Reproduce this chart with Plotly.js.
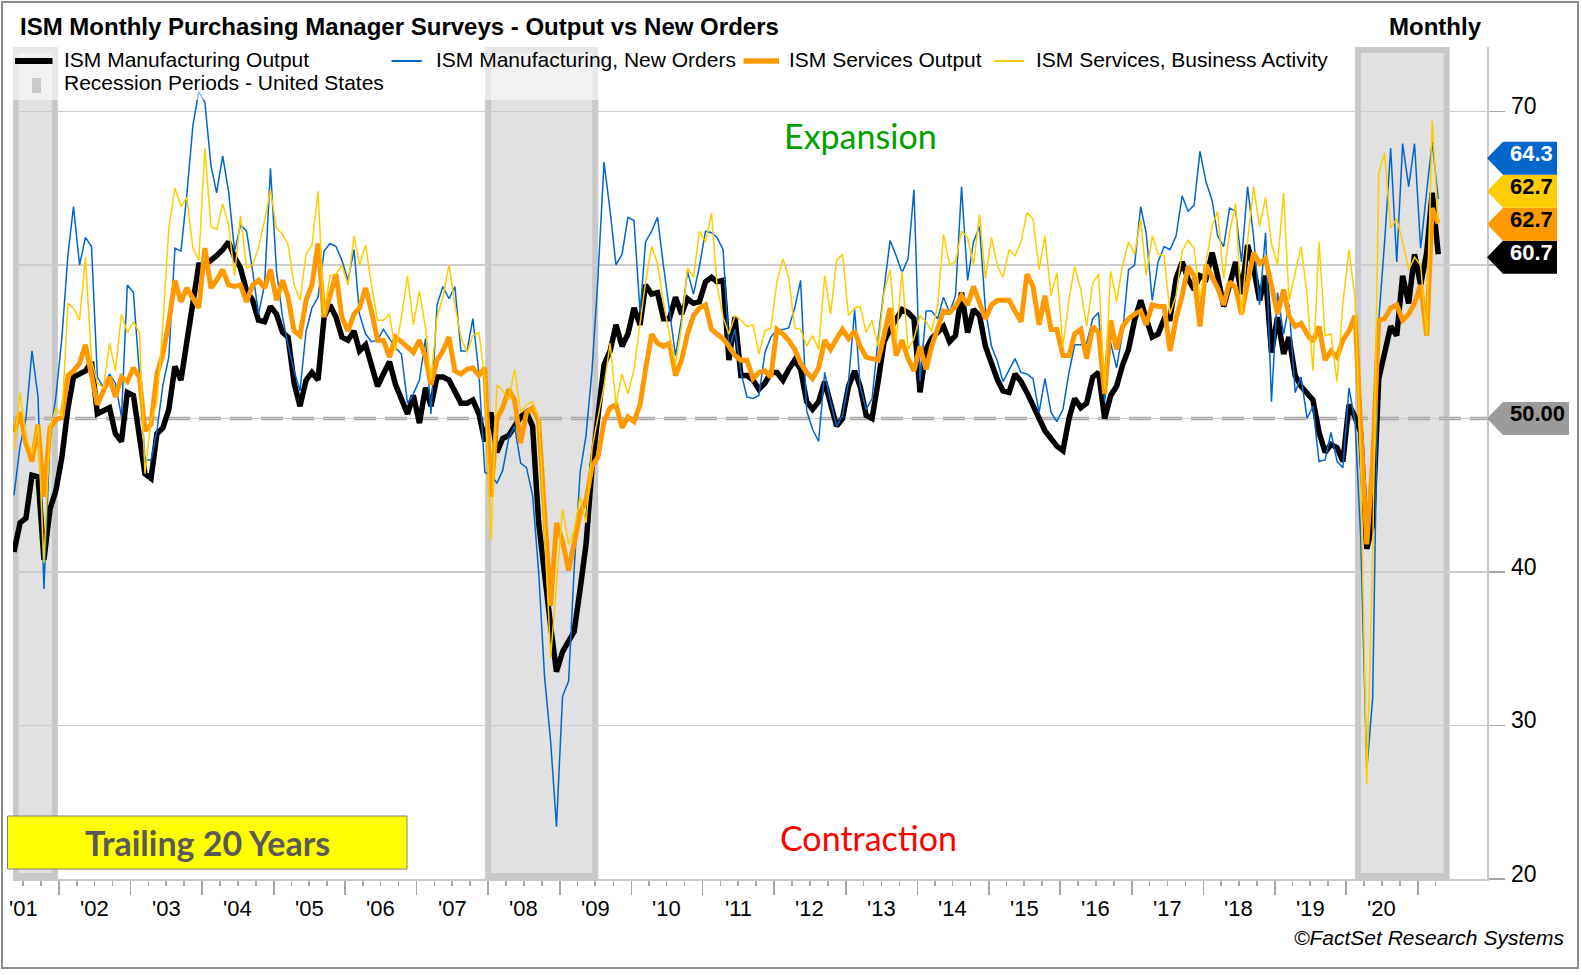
<!DOCTYPE html>
<html><head><meta charset="utf-8">
<script src="https://cdn.plot.ly/plotly-3.0.1.min.js"></script>
<style>
html,body{margin:0;padding:0;background:#fff;}
#wrap{position:relative;width:1582px;height:975px;}
#chart{width:1582px;height:975px;}
#frame{position:absolute;left:1px;top:1px;width:1578px;height:968px;border:2px solid #8c8c8c;box-sizing:border-box;pointer-events:none;}
</style></head><body>
<div id="wrap"><div id="chart"></div><div id="frame"></div></div>
<script>
// ---- data (monthly, starting May 2001) ----
const startYear = 2001, startMonth = 5;
const mfgOutput = [
41.3,43.2,43.5,46.3,46.2,40.8,44.1,45.3,
47.5,50.7,52.7,52.9,53.1,53.7,50.3,50.5,50.7,49.0,48.5,51.7,
51.5,48.8,46.4,46.1,49.0,49.4,50.6,53.4,52.5,55.0,57.6,60.0,
60.0,60.3,60.6,61.0,61.5,60.5,59.8,58.3,57.7,56.4,56.3,57.3,
56.8,55.6,55.3,52.3,50.8,52.5,53.0,52.5,56.6,57.4,56.6,55.3,
55.1,55.7,54.4,54.8,53.5,52.1,52.9,53.7,52.2,51.2,50.3,51.5,
49.7,52.0,50.8,52.7,52.7,52.5,51.8,51.0,51.0,51.2,50.3,48.5,
50.4,47.8,48.7,48.9,49.5,50.1,50.4,49.5,43.2,39.5,36.5,33.5,
34.8,35.5,36.1,38.9,41.8,46.9,50.4,53.5,54.4,56.1,54.7,55.5,
57.2,56.1,58.7,58.1,58.2,56.5,56.5,57.9,56.8,57.8,57.5,57.6,
58.9,59.2,58.9,59.0,53.8,56.6,52.8,52.8,52.5,51.9,52.3,53.0,
53.0,52.5,53.2,53.8,53.2,51.1,50.6,51.1,52.4,51.1,49.5,50.0,
52.1,53.1,52.1,50.2,50.0,52.4,55.0,55.8,56.5,57.1,56.9,56.5,
51.7,54.5,55.2,55.6,56.0,55.0,55.4,58.2,55.6,57.1,56.7,54.7,
53.5,52.5,51.8,51.7,52.9,52.4,51.7,50.8,50.0,49.2,48.7,48.2,
47.9,50.0,51.3,50.7,51.0,52.7,53.0,50.0,51.5,52.1,53.5,54.5,
56.4,57.7,56.5,55.3,55.5,56.5,56.5,59.1,60.2,59.1,58.4,59.3,
59.1,60.8,59.3,57.3,58.7,60.2,58.1,61.3,59.8,57.7,59.3,54.3,
56.6,54.2,55.3,52.8,52.1,51.7,51.2,49.1,47.8,48.3,48.1,47.2,
50.9,50.1,49.1,41.5,43.1,52.6,54.2,56.0,55.4,59.3,57.5,60.7,
58.7,60.8,64.7,60.7];
const mfgNewOrders = [
45.0,48.2,50.0,54.4,51.4,38.9,48.8,51.4,
55.3,60.7,63.8,60.0,61.8,61.2,52.7,52.0,52.9,52.3,50.1,58.7,
58.2,52.9,47.3,47.3,49.2,52.2,54.0,61.1,60.9,64.6,69.1,71.3,
70.6,66.5,64.7,67.1,64.8,60.9,62.6,62.2,59.6,56.8,58.7,66.3,
59.6,56.6,54.8,53.1,51.8,55.7,57.2,57.9,60.9,61.4,61.2,60.3,
59.0,61.0,56.8,55.5,55.0,55.1,55.8,55.2,54.6,54.2,51.0,51.6,
52.5,55.2,50.3,57.4,58.6,57.8,58.6,54.4,54.4,56.5,52.9,46.5,
46.3,45.8,46.6,48.7,49.5,47.1,46.8,45.0,40.0,33.2,29.0,23.4,
31.9,32.9,40.1,46.5,48.9,53.2,59.2,66.7,63.5,60.0,60.7,63.1,
62.9,56.9,61.5,62.2,63.1,59.9,56.9,54.1,56.5,59.6,58.1,59.9,
62.2,62.1,61.8,61.0,54.5,55.8,53.0,51.4,51.3,51.5,54.3,55.3,
55.8,55.8,55.9,57.2,59.0,50.5,49.3,48.5,53.0,51.1,49.5,50.2,
52.4,57.1,52.1,50.6,51.3,55.2,58.4,61.6,60.6,59.5,60.4,64.9,
52.4,57.0,57.0,56.5,57.9,56.9,58.0,65.1,59.0,61.5,62.5,57.1,
54.7,53.7,52.4,53.2,53.9,53.0,52.9,52.6,50.4,52.6,50.4,49.8,
50.6,53.0,54.8,54.8,54.9,56.5,56.9,51.1,54.9,53.3,55.6,59.7,
60.0,63.8,62.1,57.7,60.2,61.2,61.0,61.9,64.5,63.5,63.9,67.4,
65.4,64.2,61.9,61.2,63.7,63.5,60.2,65.1,61.8,57.4,62.1,51.1,
58.2,55.5,57.4,51.7,52.7,50.0,50.8,47.2,47.3,49.1,47.2,46.8,
52.0,49.8,42.2,27.1,31.8,56.4,61.5,67.6,60.2,67.9,65.1,67.9,
61.1,64.8,68.0,64.3];
const svcOutput = [
49.1,50.4,48.4,47.2,49.6,44.9,49.4,49.9,
50.1,52.8,53.1,53.6,54.8,52.9,50.9,51.8,52.7,51.4,52.7,52.4,
53.3,52.7,49.2,49.6,52.9,54.2,56.3,59.0,57.6,58.5,57.9,57.2,
61.1,58.5,59.0,59.7,58.7,58.6,58.7,57.6,58.7,59.0,58.5,59.7,
57.7,59.0,57.9,55.7,55.4,57.7,58.7,61.4,56.6,58.1,59.4,56.6,
55.7,56.8,57.2,58.5,57.0,55.1,55.1,54.0,55.3,55.0,54.6,54.3,
55.1,54.0,52.2,53.8,54.4,55.3,53.1,52.9,53.2,53.3,52.8,53.3,
44.9,50.0,50.7,51.9,51.2,48.4,50.4,50.7,49.8,44.0,37.8,43.2,
42.0,40.1,42.0,43.8,44.7,46.9,47.5,49.8,50.7,50.9,49.4,50.1,
49.8,50.9,53.2,55.5,54.9,54.7,54.9,52.8,53.8,55.5,56.7,57.2,
57.4,55.8,55.5,55.2,54.7,54.1,53.8,53.8,52.6,53.0,53.1,52.7,
55.8,55.5,55.1,54.5,53.6,53.0,52.6,53.3,55.1,54.5,55.2,55.8,
55.2,55.7,54.7,54.0,53.9,53.8,55.4,57.2,54.1,55.1,53.9,53.1,
54.7,53.2,54.7,56.0,57.0,56.9,57.3,58.0,57.4,58.6,57.5,56.5,
57.4,57.7,57.7,57.7,57.0,56.3,59.4,58.6,56.1,58.0,55.8,55.8,
54.1,54.1,55.5,55.8,53.9,56.0,55.6,51.6,56.4,54.5,56.0,56.5,
56.8,57.0,56.1,57.4,57.3,57.3,54.4,56.5,58.0,59.9,59.3,56.0,
60.0,59.2,58.5,57.4,58.9,58.5,56.8,58.8,60.8,60.1,60.4,58.7,
56.8,58.4,56.7,56.0,56.2,55.5,55.0,56.0,53.8,54.4,54.0,55.1,
55.7,56.7,50.1,41.8,47.2,56.4,56.5,57.2,57.4,56.4,56.8,57.5,
58.7,55.4,63.7,62.7];
const svcBusinessActivity = [
48.0,51.7,48.8,47.7,49.6,40.6,49.4,50.7,
50.1,57.5,57.2,56.4,60.5,53.8,52.3,52.0,54.9,53.1,56.8,55.6,
56.3,55.6,46.4,49.9,51.0,56.2,62.4,65.0,63.8,64.4,61.1,60.3,
67.6,62.5,62.3,64.0,62.6,59.3,63.2,59.8,60.0,61.1,62.9,64.9,
62.4,62.0,61.3,58.7,57.7,60.7,61.3,64.8,56.8,59.3,59.4,60.0,
58.7,61.9,60.0,61.3,58.7,56.4,56.4,56.8,54.4,56.6,59.3,56.1,
58.3,55.9,52.5,56.6,57.9,60.0,57.4,55.3,54.3,55.4,55.6,52.5,
42.1,52.2,51.8,51.2,53.2,50.4,50.9,51.1,50.0,43.0,34.4,38.9,
44.1,41.8,42.7,44.9,43.2,48.1,50.0,52.1,54.9,50.9,52.9,51.6,
53.2,56.1,58.9,61.2,60.1,57.5,55.5,53.5,56.0,59.8,59.2,62.2,
61.5,63.4,58.7,56.6,55.5,56.7,56.4,56.0,56.1,54.2,55.7,55.9,
58.9,60.4,59.2,55.9,55.8,54.7,55.4,54.5,59.3,56.8,60.3,60.7,
56.7,57.2,57.3,55.6,56.4,54.7,58.2,59.7,55.0,59.6,54.5,55.2,
56.7,56.3,55.7,57.3,62.0,60.0,60.2,62.2,61.8,60.0,63.3,59.1,
61.8,59.9,59.2,61.0,60.6,61.5,63.4,63.0,59.7,61.9,58.0,59.5,
54.7,57.8,59.9,58.4,56.0,58.8,59.4,51.9,59.6,57.6,60.0,61.5,
60.7,63.0,59.3,61.9,60.7,60.6,56.8,58.0,60.9,61.6,61.1,57.8,
60.2,62.5,63.5,59.1,62.1,64.0,56.7,61.5,65.1,62.5,64.4,61.4,
60.0,64.7,57.7,59.5,61.2,58.1,53.1,61.5,55.4,55.5,52.4,57.5,
61.0,57.8,47.2,26.2,41.0,66.0,67.3,62.4,63.0,61.5,59.7,60.5,
60.0,55.4,69.4,62.7];
const recessions = [['2001-03-01','2001-12-10'],['2008-01-01','2009-07-01'],['2020-03-01','2021-05-28']];
const yTicks = [20,30,40,50,60,70];
const yearLabels = ["'01","'02","'03","'04","'05","'06","'07","'08","'09","'10","'11","'12","'13","'14","'15","'16","'17","'18","'19","'20"];
const labelYears = [2001,2002,2003,2004,2005,2006,2007,2008,2009,2010,2011,2012,2013,2014,2015,2016,2017,2018,2019,2020];
const seriesNames = ['ISM Manufacturing Output','ISM Manufacturing, New Orders','ISM Services Output','ISM Services, Business Activity'];
const seriesColors = ['#000000','#0066CC','#FF9900','#FFCC00'];
const seriesWidths = [5.5,1.5,5,1.5];
const referenceLevel = 50;

// ---- geometry ----
const FIG_W = 1582, FIG_H = 975;
const L = 13, R = 95, T = 47, B = 96;
const PW = FIG_W - L - R, PH = FIG_H - T - B;
const Y_MIN = 20, Y_MAX = 74.2;
const X_RANGE = ['2001-05-10','2021-12-20'];
const px = x => (x - L) / PW;
const py = y => 1 - (y - T) / PH;
const vy = v => (v - Y_MIN) / (Y_MAX - Y_MIN);
const FONT = 'Liberation Sans, Arial, sans-serif';
const FONT2 = 'Lato, Open Sans, sans-serif';

const pad = n => (n < 10 ? '0' : '') + n;
const dates = mfgOutput.map((_, i) => {
  const m = startMonth - 1 + i;
  return (startYear + Math.floor(m / 12)) + '-' + pad(m % 12 + 1) + '-15';
});
const lastDate = dates[dates.length - 1];

// ticks
const majorTicks = [], minorTicks = [];
for (let y = startYear; y <= 2021; y++) {
  if (y > startYear) majorTicks.push(y + '-01-01');
  [4, 7, 10].forEach(m => {
    const d = y + '-' + pad(m) + '-01';
    if (d > X_RANGE[0] && d <= lastDate) minorTicks.push(d);
  });
}

const allSeries = [mfgOutput, mfgNewOrders, svcOutput, svcBusinessActivity];
const traces = allSeries.map((s, k) => ({
  type: 'scatter', mode: 'lines', x: dates, y: s, name: seriesNames[k],
  line: {color: seriesColors[k], width: seriesWidths[k]}, hoverinfo: 'skip'
}));

const shapes = [];
// recession bars
recessions.forEach(r => {
  const x0 = r[0] < '2001-05-23' ? '2001-05-23' : r[0];
  shapes.push({type: 'rect', xref: 'x', yref: 'paper', x0: x0, x1: r[1], y0: 3 / PH, y1: 1 - 3 / PH,
    fillcolor: '#e1e1e1', line: {color: '#c9c9c9', width: 6}, layer: 'between'});
});
// 50 dashed line
shapes.push({type: 'line', xref: 'paper', yref: 'y', x0: 0, x1: 1, y0: referenceLevel, y1: referenceLevel,
  line: {color: '#a6a6a6', width: 3.5, dash: '22px,9px'}, layer: 'between'});
// legend box
shapes.push({type: 'rect', xref: 'paper', yref: 'paper', x0: px(10), x1: px(1330), y0: py(100), y1: py(47),
  fillcolor: 'rgba(255,255,255,0.55)', line: {width: 0}, layer: 'above'});
// legend samples
const legendSamples = [[15, 52.5], [391.5, 421.7], [743.6, 779], [993.8, 1024]];
legendSamples.forEach((s, k) => {
  shapes.push({type: 'line', xref: 'paper', yref: 'paper', x0: px(s[0]), x1: px(s[1]), y0: py(61), y1: py(61),
    line: {color: seriesColors[k], width: seriesWidths[k] + 0.5}, layer: 'above'});
});
shapes.push({type: 'rect', xref: 'paper', yref: 'paper', x0: px(32), x1: px(41), y0: py(93), y1: py(78),
  fillcolor: '#c9c9c9', line: {width: 0}, layer: 'above'});
// trailing box
shapes.push({type: 'rect', xref: 'paper', yref: 'paper', x0: px(7.5), x1: px(407), y0: py(869), y1: py(816),
  fillcolor: '#FFFF00', line: {color: '#7f7f7f', width: 1}, layer: 'above'});

const annotations = [];
const ann = (o) => annotations.push(Object.assign({showarrow: false, xref: 'paper', yref: 'paper'}, o));
ann({x: px(18), y: py(26.5), xanchor: 'left', yanchor: 'middle', text: '<b>ISM Monthly Purchasing Manager Surveys - Output vs New Orders</b>', font: {family: FONT, size: 24, color: '#000'}});
ann({x: px(1484), y: py(26.5), xanchor: 'right', yanchor: 'middle', text: '<b>Monthly</b>', font: {family: FONT, size: 24, color: '#000'}});
const legendTextX = [61.5, 433.5, 786.5, 1033.5];
legendTextX.forEach((x, k) => ann({x: px(x), y: py(59.5), xanchor: 'left', yanchor: 'middle', text: seriesNames[k], font: {family: FONT, size: 21, color: '#000'}}));
ann({x: px(61.5), y: py(83), xanchor: 'left', yanchor: 'middle', text: 'Recession Periods - United States', font: {family: FONT, size: 21, color: '#000'}});
ann({x: px(860), y: py(135.5), xanchor: 'center', yanchor: 'middle', text: 'Expansion', font: {family: FONT2, size: 34, color: '#00a000'}});
ann({x: px(868), y: py(837), xanchor: 'center', yanchor: 'middle', text: 'Contraction', font: {family: FONT2, size: 34, color: '#ff0000'}});
ann({x: px(207), y: py(842), xanchor: 'center', yanchor: 'middle', text: '<b>Trailing 20 Years</b>', font: {family: FONT2, size: 34, color: '#595959'}});
ann({x: px(1566), y: py(938), xanchor: 'right', yanchor: 'middle', text: '<i>©FactSet Research Systems</i>', font: {family: FONT, size: 21, color: '#000'}});
// year labels
labelYears.forEach((y, k) => annotations.push({showarrow: false, xref: 'x', yref: 'paper', x: y + '-07-01', y: 0, xanchor: 'center', yanchor: 'top',
  yshift: -15, text: yearLabels[k], font: {family: FONT, size: 22, color: '#000'}}));

// value tags
const last = s => s[s.length - 1];
const tagH = 33 / PH * (Y_MAX - Y_MIN);
const tagItems = allSeries.map((s, k) => ({v: last(s), color: seriesColors[k], txt: last(s).toFixed(1), textColor: (k === 0 || k === 1) ? '#fff' : '#000'}));
tagItems.sort((a, b) => a.v - b.v);
let prev = -Infinity;
tagItems.forEach(t => { t.c = Math.max(t.v, prev + tagH); prev = t.c; });
const shiftDown = 3 / PH * (Y_MAX - Y_MIN);
tagItems.forEach(t => t.c -= shiftDown);
tagItems.push({v: referenceLevel, c: referenceLevel, color: '#9b9b9b', txt: referenceLevel.toFixed(2), textColor: '#000', wide: true});

// y labels (those hidden behind a value tag are not drawn)
yTicks.forEach(v => {
  if (tagItems.some(t => Math.abs(t.c - v) < tagH)) return;
  annotations.push({showarrow: false, xref: 'paper', yref: 'y', x: 1, y: v, xanchor: 'left', yanchor: 'bottom',
    xshift: 22, yshift: -10, text: String(v), font: {family: FONT, size: 23, color: '#000'}});
});

tagItems.forEach(t => {
  const hh = 16.5 / PH, yc = vy(t.c);
  const x0 = 1, xt = 1 + 16 / PW, x1 = 1 + (t.wide ? 82 : 70) / PW;
  shapes.push({type: 'path', xref: 'paper', yref: 'paper', layer: 'above',
    path: `M ${x0} ${yc} L ${xt} ${yc + hh} L ${x1} ${yc + hh} L ${x1} ${yc - hh} L ${xt} ${yc - hh} Z`,
    fillcolor: t.color, line: {width: 0}});
  ann({x: (xt + x1) / 2 + 1 / PW, y: yc, yshift: 5, xanchor: 'center', yanchor: 'middle', text: '<b>' + t.txt + '</b>', font: {family: FONT, size: 22, color: t.textColor}});
});

const layout = {
  width: FIG_W, height: FIG_H, margin: {l: L, r: R, t: T, b: B}, showlegend: false,
  paper_bgcolor: '#fff', plot_bgcolor: '#fff',
  xaxis: {type: 'date', range: X_RANGE, showgrid: false, zeroline: false, showline: true, linecolor: '#c8c8c8', linewidth: 2,
    tickmode: 'array', tickvals: majorTicks, ticktext: majorTicks.map(() => ''), ticks: 'outside', ticklen: 14, tickwidth: 1.5, tickcolor: '#a6a6a6',
    showticklabels: false,
    minor: {tickmode: 'array', tickvals: minorTicks, ticks: 'outside', ticklen: 5, tickwidth: 1.5, tickcolor: '#a6a6a6', showgrid: false}},
  yaxis: {range: [Y_MIN, Y_MAX], side: 'right', tickmode: 'array', tickvals: yTicks, showticklabels: false, ticks: 'outside', ticklen: 16,
    tickwidth: 1.5, tickcolor: '#a6a6a6', showline: true, linecolor: '#c8c8c8', linewidth: 1.5, showgrid: true, gridcolor: '#cdcdcd', gridwidth: 1.5, zeroline: false},
  shapes: shapes, annotations: annotations
};
Plotly.newPlot('chart', traces, layout, {displayModeBar: false, staticPlot: true});
</script>
</body></html>
